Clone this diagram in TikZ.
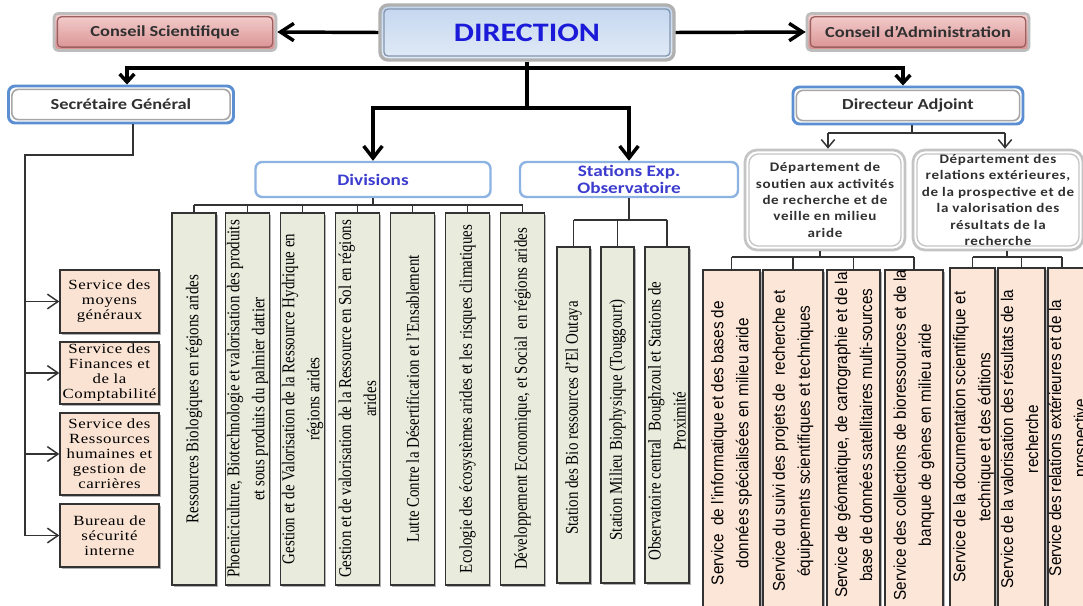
\documentclass[tikz,border=0pt]{standalone}
\usepackage{fontspec}
\setmainfont{Liberation Serif}
\newfontfamily\hsans[FakeStretch=1.2]{Carlito}
\newfontfamily\dsans[FakeStretch=1.15,LetterSpace=5]{Carlito}
\newfontfamily\hserif[FakeStretch=1.2,LetterSpace=4]{Liberation Serif}
\newfontfamily\vserif[FakeStretch=0.83]{Liberation Serif}
\newfontfamily\vsans[FakeStretch=0.9]{Liberation Sans}
\usetikzlibrary{arrows.meta,shadows}
\definecolor{csfillA}{HTML}{F4CFCF}
\definecolor{csfillB}{HTML}{D99090}
\definecolor{csedge}{HTML}{BDBDBD}
\definecolor{csinner}{HTML}{9C6060}
\definecolor{dirfillA}{HTML}{C3D6EF}
\definecolor{dirfillB}{HTML}{E2EBF7}
\definecolor{diredge}{HTML}{B0B0B0}
\definecolor{dirinner}{HTML}{8496AD}
\definecolor{dirtext}{HTML}{1A1AD8}
\definecolor{chiefedge}{HTML}{5C8FD2}
\definecolor{unitedge}{HTML}{8DB3E2}
\definecolor{unittext}{HTML}{3C3CCF}
\definecolor{deptedge}{HTML}{C4C4C4}
\definecolor{colgreen}{HTML}{E9EBDD}
\definecolor{colpeach}{HTML}{FCE6D7}
\definecolor{svcpeach}{HTML}{FAE3D3}
\definecolor{boxedge}{HTML}{333333}
\definecolor{txtgray}{HTML}{303030}
\begin{document}
\begin{tikzpicture}[x=0.75pt,y=-0.75pt,
  thickln/.style={line width=2.6pt, draw=black},
  thinln/.style={line width=1.1pt, draw=black!80},
  sidearrow/.style={thickln, -{Straight Barb[length=10pt,width=13pt]}},
  bigarrow/.style={thickln, -{Straight Barb[length=9pt,width=14pt]}},
  midarrow/.style={thickln, -{Straight Barb[length=6pt,width=11pt]}},
  thinarrow/.style={thinln, -{Straight Barb[length=8pt,width=11pt]}},
  smallarrow/.style={thinln, -{Straight Barb[length=6pt,width=10pt]}},
  softshadow/.style={drop shadow={shadow xshift=1.3pt, shadow yshift=-1.3pt,
    fill=black, opacity=0.3}},
  conseil/.style={rounded corners=3pt, draw=csedge, line width=2pt,
    top color=csfillA, bottom color=csfillB,
    minimum width=166.5pt, minimum height=27.75pt, inner sep=0pt,
    font=\hsans\bfseries\fontsize{11.5}{14}\selectfont, text=txtgray,
    path picture={\draw[csinner, line width=1pt]
      ([shift={(2.5pt,2.5pt)}]path picture bounding box.south west) rectangle
      ([shift={(-2.5pt,-2.5pt)}]path picture bounding box.north east);}},
  direction/.style={rounded corners=6pt, draw=diredge, line width=2.5pt,
    top color=dirfillA, bottom color=dirfillB,
    minimum width=220.5pt, minimum height=41.25pt, inner sep=0pt,
    font=\hsans\bfseries\fontsize{20}{24}\selectfont, text=dirtext,
    path picture={\draw[dirinner, line width=1pt, rounded corners=3pt]
      ([shift={(3pt,3pt)}]path picture bounding box.south west) rectangle
      ([shift={(-3pt,-3pt)}]path picture bounding box.north east);}},
  chief/.style={rounded corners=5pt, draw=chiefedge, line width=2.2pt, fill=white,
    minimum width=168.75pt, minimum height=27.75pt, inner sep=0pt,
    font=\hsans\bfseries\fontsize{11.5}{14}\selectfont, text=txtgray,
    path picture={\draw[gray!70, line width=1.2pt]
      ([shift={(2.5pt,2.5pt)}]path picture bounding box.south west) rectangle
      ([shift={(-2.5pt,-2.5pt)}]path picture bounding box.north east);}},
  unit/.style={rounded corners=5pt, draw=unitedge, line width=1.8pt, fill=white,
    minimum width=176.25pt, minimum height=26.25pt, inner sep=0pt, align=center,
    font=\hsans\bfseries\fontsize{12}{12.75}\selectfont, text=unittext},
  dept/.style={rounded corners=9pt, draw=deptedge, line width=2pt, fill=white,
    minimum width=120pt, minimum height=75pt, inner sep=0pt, align=center,
    font=\dsans\bfseries\fontsize{9.8}{12.3}\selectfont, text=txtgray,
    path picture={\draw[gray!45, line width=1pt, rounded corners=7pt]
      ([shift={(3pt,3pt)}]path picture bounding box.south west) rectangle
      ([shift={(-3pt,-3pt)}]path picture bounding box.north east);}},
  svc/.style={draw=boxedge, line width=1pt, fill=svcpeach, minimum width=74.25pt,
    inner sep=0pt, align=center, softshadow,
    font=\hserif\fontsize{10.5}{11.25}\selectfont},
  divcol/.style={draw=boxedge, line width=1pt, fill=colgreen, minimum width=33pt,
    minimum height=279pt, inner sep=0pt, softshadow},
  stacol/.style={draw=boxedge, line width=1pt, fill=colgreen, minimum height=252pt,
    inner sep=0pt, softshadow},
  rcol/.style={draw=boxedge, line width=1pt, fill=colpeach, inner sep=0pt, softshadow},
  coltext/.style={rotate=90, align=center, inner sep=0pt,
    font=\vserif\fontsize{13.5}{18.75}\selectfont},
  svctext/.style={rotate=90, align=center, inner sep=0pt,
    font=\vsans\fontsize{12.75}{18.75}\selectfont}
]
\useasboundingbox (0,0) rectangle (1083,606);
\clip (0,0) rectangle (1083,606);
\fill[white] (0,0) rectangle (1083,606);

% ---- top level boxes
\node[conseil] (cs) at (165,32) {Conseil Scientifique};
\node[direction] (dir) at (527,32.5) {DIRECTION};
\node[conseil] (ca) at (918,32) {Conseil d’Administration};
\node[chief] (sg) at (121,104.5) {Secrétaire Général};
\node[chief, minimum width=172.5pt] (da) at (908,105.5) {Directeur Adjoint};
\node[unit] (div) at (373,179.5) {Divisions};
\node[unit, minimum width=163.5pt] (sta) at (629,179.5) {Stations Exp.\\Observatoire};
\node[dept] (dp1) at (825,200) {Département de\\soutien aux activités\\de recherche et de\\veille en milieu\\aride};
\node[dept, minimum width=127.5pt] (dp2) at (998,200) {Département des\\relations extérieures,\\de la prospective et de\\la valorisation des\\résultats de la\\recherche};

% ---- thick connectors
\coordinate (barL) at (127,68);
\coordinate (barR) at (903,68);
\coordinate (jL) at (373,108);
\coordinate (jR) at (629,108);
\draw[sidearrow] (dir.west) -- (cs.east);
\draw[sidearrow] (dir.east) -- (ca.west);
\draw[thickln] (dir.south) -- (dir.south |- jL);
\draw[midarrow] (dir.south |- barL) -- (barL) -- (barL |- sg.north);
\draw[midarrow] (dir.south |- barL) -- (barR) -- (barR |- da.north);
\draw[bigarrow] (dir.south |- jL) -- (jL) -- (div.north);
\draw[bigarrow] (dir.south |- jL) -- (jR) -- (sta.north);

% ---- secretariat services
\node[svc, minimum height=47.25pt] (sv1) at (109.5,301.5) {Service des\\moyens\\généraux};
\node[svc, minimum height=46.5pt] (sv2) at (109.5,373) {Service des\\Finances et\\de la\\Comptabilité};
\node[svc, minimum height=61.5pt] (sv3) at (109.5,454) {Service des\\Ressources\\humaines et\\gestion de\\carrières};
\node[svc, minimum height=47.25pt] (sv4) at (109.5,535.5) {Bureau de\\sécurité\\interne};
\coordinate (sgA) at (133,155);
\coordinate (sgB) at (25,155);
\draw[thinln] (sg.south -| sgA) -- (sgA) -- (sgB) -- (sgB |- sv4.west);
\foreach \k in {1,2,3,4} \draw[thinarrow] (sgB |- sv\k.west) -- (sv\k.west);

% ---- divisions
\foreach \i/\cx in {1/194,2/247.5,3/302.5,4/357.5,5/412.5,6/467.5,7/522.5}
  \node[divcol] (d\i) at (\cx,399) {};
\node[coltext] (td1) at (d1) {Ressources Biologiques en régions arides};
\node[coltext] (td2) at (d2) {Phoeniciculture, Biotechnologie et valorisation des produits\\et sous produits du palmier dattier};
\node[coltext] (td3) at (d3) {Gestion et de Valorisation de la Ressource Hydrique en\\régions arides};
\node[coltext] (td4) at (d4) {Gestion et de valorisation de la Ressource en Sol en régions\\arides};
\node[coltext] (td5) at (d5) {Lutte Contre la Désertification et l’Ensablement};
\node[coltext] (td6) at (d6) {Ecologie des écosystèmes arides et les risques climatiques};
\node[coltext] (td7) at (d7) {Développement Economique, et Social\ \ en régions arides};
\coordinate (divbar) at (373,205);
\draw[thinln] (div.south) -- (divbar);
\draw[thinln] (d1.north |- divbar) -- (d7.north |- divbar);
\foreach \i in {1,...,7} \draw[thinln] (d\i.north |- divbar) -- (d\i.north);

% ---- stations
\node[stacol, minimum width=24.75pt] (s1) at (573.5,415) {};
\node[stacol, minimum width=24.75pt] (s2) at (617.5,415) {};
\node[stacol, minimum width=33pt] (s3) at (667,415) {};
\node[coltext] (ts1) at (573.5,418) {Station des Bio ressources d’El Outaya};
\node[coltext] (ts2) at (617.5,420) {Station Milieu Biophysique (Touggourt)};
\node[coltext] (ts3) at (667,421) {Observatoire central\ \ Boughzoul et Stations de\\Proximité};
\coordinate (stabar) at (629,220);
\draw[thinln] (sta.south) -- (stabar);
\draw[thinln] (s1.north |- stabar) -- (s3.north |- stabar);
\foreach \i in {1,2,3} \draw[thinln] (s\i.north |- stabar) -- (s\i.north);

% ---- deputy director branch
\coordinate (daA) at (912,133);
\coordinate (daL) at (828,133);
\coordinate (daR) at (1005,133);
\draw[thinln] (da.south -| daA) -- (daA);
\draw[thinln] (daL) -- (daR);
\draw[smallarrow] (daL) -- (daL |- dp1.north);
\draw[smallarrow] (daR) -- (daR |- dp2.north);

% ---- department 1 services
\node[rcol, minimum width=42.75pt, minimum height=266.25pt] (r1) at (731.5,447.5) {};
\node[rcol, minimum width=45pt, minimum height=266.25pt] (r2) at (793,447.5) {};
\node[rcol, minimum width=39.75pt, minimum height=266.25pt] (r3) at (853.5,447.5) {};
\node[rcol, minimum width=43.5pt, minimum height=266.25pt] (r4) at (914,447.5) {};
\node[svctext] (tr1) at (731.5,443) {Service\ \ de l’informatique et des bases de\\données spécialisées en milieu aride};
\node[svctext] (tr2) at (793,441) {Service du suivi des projets de\ \ recherche et\\équipements scientifiques et techniques};
\node[svctext] (tr3) at (853.5,435) {Service de géomatique, de cartographie et de la\\base de données satellitaires multi-sources};
\node[svctext] (tr4) at (914,435) {Service des collections de bioressources et de la\\banque de gènes en milieu aride};
\coordinate (dp1bar) at (820,257);
\draw[thinln] (dp1.south -| dp1bar) -- (dp1bar);
\draw[thinln] (r1.north |- dp1bar) -- (r4.north |- dp1bar);
\foreach \i in {1,...,4} \draw[thinln] (r\i.north |- dp1bar) -- (r\i.north);

% ---- department 2 services
\node[rcol, minimum width=33.75pt, minimum height=267.75pt] (r5) at (972.5,446.5) {};
\node[rcol, minimum width=35.25pt, minimum height=267.75pt] (r6) at (1021.5,446.5) {};
\node[rcol, minimum width=39pt, minimum height=267.75pt] (r7) at (1074,446.5) {};
\node[svctext] (tr5) at (973.5,437) {Service de la documentation scientifique et\\technique et des éditions};
\node[svctext] (tr6) at (1019.5,439) {Service de la valorisation des résultats de la\\recherche};
\node[svctext] (tr7) at (1069,438) {Service des relations extérieures et de la\\prospective};
\coordinate (dp2bar) at (1007,257);
\coordinate (t7) at (1062,257);
\draw[thinln] (dp2.south -| dp2bar) -- (dp2bar);
\draw[thinln] (r5.north |- dp2bar) -- (t7);
\draw[thinln] (r5.north |- dp2bar) -- (r5.north);
\draw[thinln] (r6.north |- dp2bar) -- (r6.north);
\draw[thinln] (t7) -- (r7.north -| t7);
\end{tikzpicture}
\end{document}
